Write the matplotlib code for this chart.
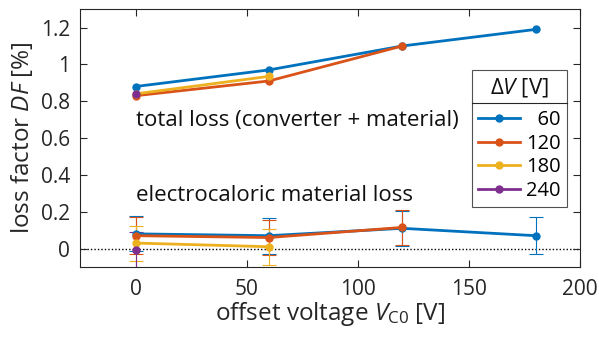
import matplotlib
matplotlib.use("Agg")
import matplotlib.pyplot as plt
from matplotlib.lines import Line2D

plt.rcParams['font.family'] = ['Open Sans', 'DejaVu Sans']
plt.rcParams['mathtext.fontset'] = 'custom'
plt.rcParams['mathtext.rm'] = 'Open Sans'
plt.rcParams['mathtext.it'] = 'Open Sans:italic'

labels = ['60', '120', '180', '240']
colors = ['#0072BD', '#D95319', '#EDB120', '#7E2F8E']

total_x = [[0, 60, 120, 180], [0, 60, 120], [0, 60], [0]]
total_y = [[0.88, 0.97, 1.10, 1.19], [0.83, 0.91, 1.10], [0.84, 0.935], [0.84]]

mat_x = [[0, 60, 120, 180], [0, 60, 120], [0, 60], [0]]
mat_y = [[0.08, 0.07, 0.11, 0.07], [0.07, 0.06, 0.115], [0.03, 0.01], [-0.01]]
mat_err = [[0.095, 0.098, 0.095, 0.10], [0.10, 0.095, 0.095], [0.095, 0.098], [0.10]]

fig = plt.figure(figsize=(5.99, 3.39), dpi=100)
ax = fig.add_axes([0.1336, 0.2124, 0.8347, 0.7606])

ax.axhline(0, color='black', ls=(0, (1, 1.5)), lw=1.0, zorder=1)

for i in range(4):
    ax.plot(total_x[i], total_y[i], '-o', color=colors[i], lw=2.0, ms=5, label=labels[i], zorder=3)
for i in range(4):
    ax.errorbar(mat_x[i], mat_y[i], yerr=mat_err[i], fmt='-o', color=colors[i], lw=2.0, ms=5,
                elinewidth=0.8, capsize=5, capthick=0.8, ecolor=colors[i], zorder=3)

ax.text(0, 0.695, 'total loss (converter + material)', fontsize=16, va='center', ha='left', color='#111111')
ax.text(0, 0.29, 'electrocaloric material loss', fontsize=16, va='center', ha='left', color='#111111')

ax.set_xlim(-25, 200)
ax.set_ylim(-0.1, 1.3)
ax.set_xticks([0, 50, 100, 150, 200])
ax.set_yticks([0, 0.2, 0.4, 0.6, 0.8, 1.0, 1.2])
ax.set_yticklabels(['0', '0.2', '0.4', '0.6', '0.8', '1', '1.2'])
ax.tick_params(direction='in', length=5, width=0.8, top=True, right=True, labelsize=15,
               colors='#262626', labelcolor='#262626')
ax.tick_params(axis='y', pad=7)
ax.tick_params(axis='x', pad=9)
for s in ax.spines.values():
    s.set_color('#262626')
    s.set_linewidth(0.8)

ax.set_xlabel(r'offset voltage $V_{\rm C0}$ [V]', fontsize=17.5, color='#262626', labelpad=0)
ax.set_ylabel(r'loss factor $DF$ [%]', fontsize=17.5, color='#262626', labelpad=4)

fs = '\u2007'
leg_labels = [fs + l if len(l) == 2 else l for l in labels]
handles = ax.get_legend_handles_labels()[0]
leg = ax.legend(handles, leg_labels, title=r'$\Delta V$ [V]', loc='upper right',
                bbox_to_anchor=(0.974, 0.764),
                fontsize=14.5, title_fontsize=16, frameon=True, fancybox=False,
                edgecolor='#262626', handlelength=2.1, handletextpad=0.3, borderpad=0.3,
                labelspacing=0.18, borderaxespad=0)
leg.get_frame().set_linewidth(0.8)
leg.get_title().set_color('#111111')
leg._legend_box.sep = 8

fig.canvas.draw()
r = fig.canvas.get_renderer()
fb = leg.get_frame().get_window_extent(r)
tb = leg.get_title().get_window_extent(r)
ysep = tb.y0 - 4
inv = fig.transFigure.inverted()
(x0, y0) = inv.transform((fb.x0, ysep))
(x1, _) = inv.transform((fb.x1, ysep))
fig.add_artist(Line2D([x0, x1], [y0, y0], color='#262626', lw=0.8))

fig.savefig('out.png', dpi=100)
